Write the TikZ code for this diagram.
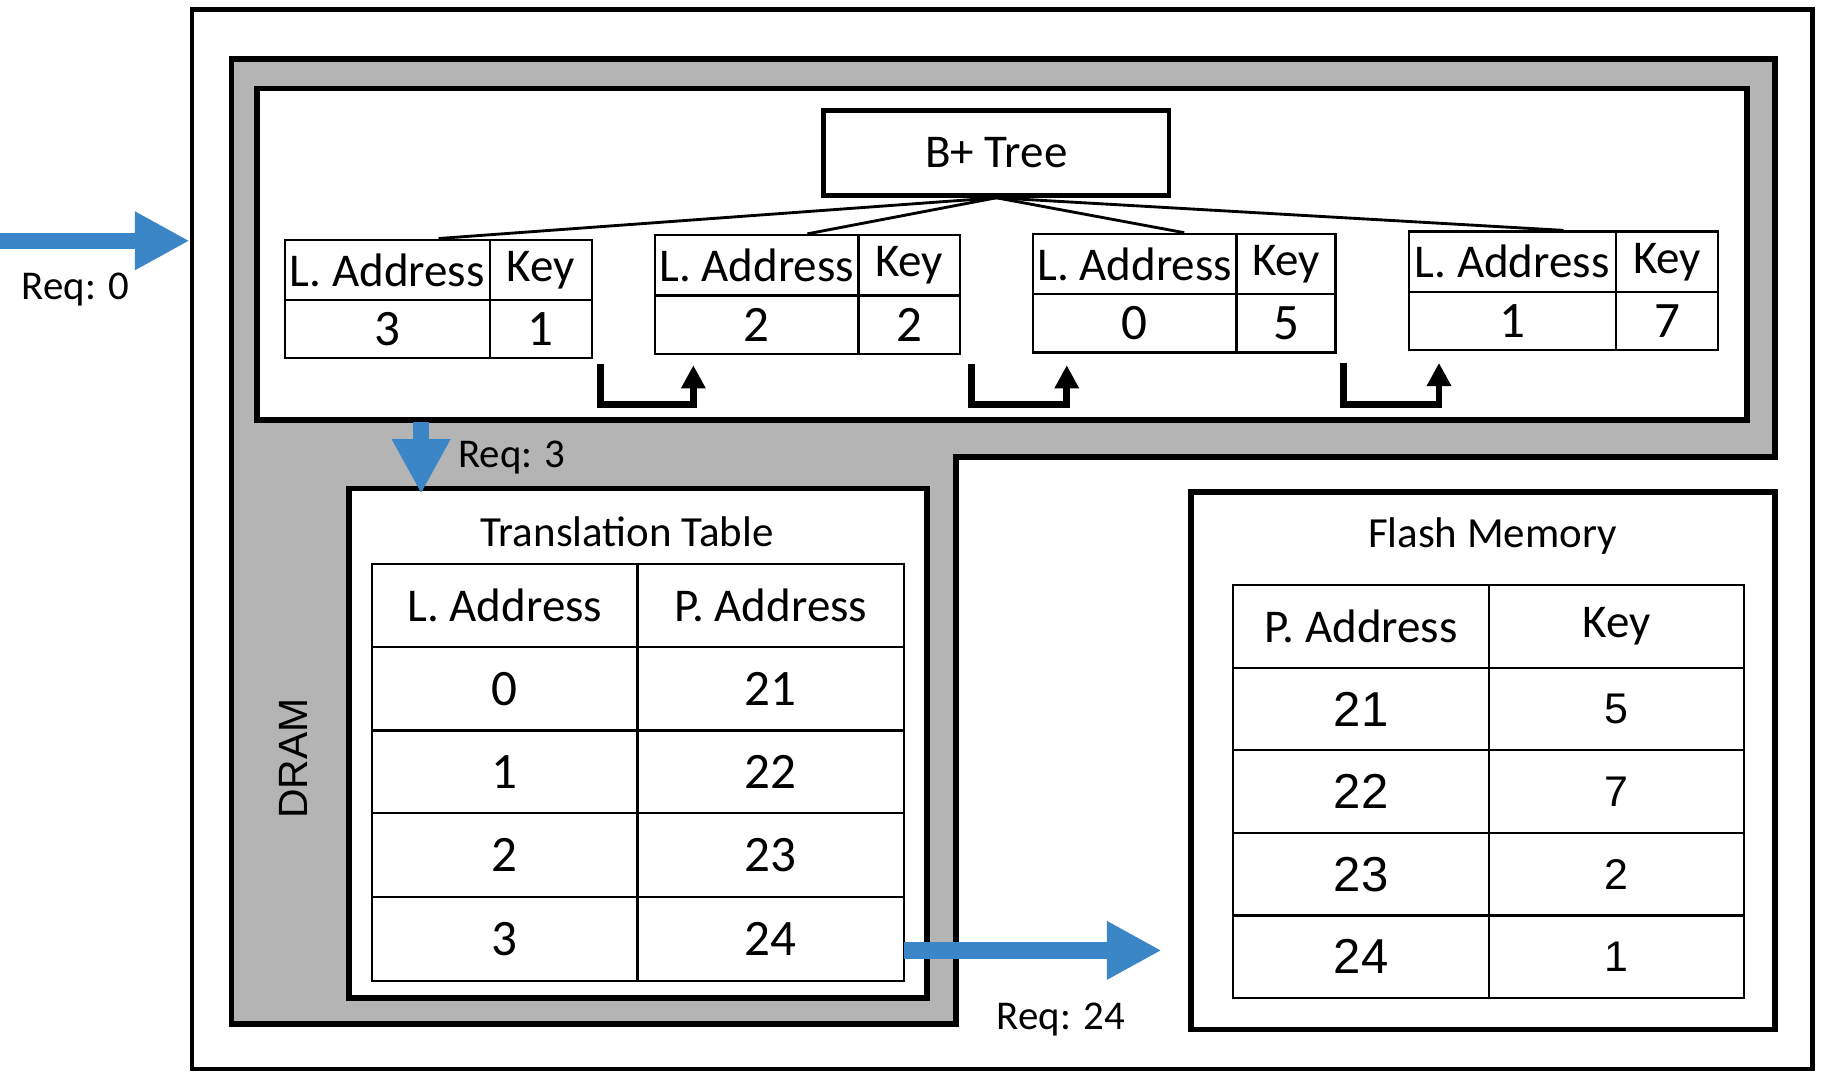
\documentclass[tikz,border=0pt]{standalone}
\usepackage{fontspec}
\setmainfont{Carlito}
\newfontfamily\arialfont{Liberation Sans}
\usetikzlibrary{arrows.meta,calc}
\definecolor{dramgray}{RGB}{180,180,180}
\definecolor{reqblue}{RGB}{59,134,198}
\newcommand{\setfs}[1]{\fontsize{#1}{#1}\selectfont}

\begin{document}
\begin{tikzpicture}[x=0.02cm,y=-0.02cm,
  frame/.style={draw,line width=2.8pt,fill=white,inner sep=0pt,rectangle},
  leafbox/.style={draw,line width=1.1pt,fill=white,inner sep=0pt,minimum height={102*0.02cm}},
  thin/.style={line width=1.1pt},
  treeline/.style={line width=1.4pt},
  ptr/.style={line width=3.3pt,line join=miter,-{Triangle[width=0.40cm,length=0.40cm]}},
  req/.style={line width=0.28cm,reqblue,-{Triangle[width=0.94cm,length=0.94cm]}},
  txt/.style={inner sep=0pt,font=\setfs{23}},
  title/.style={inner sep=0pt,font=\setfs{21}},
  cdig/.style={inner sep=0pt,font=\setfs{25}},
  dig/.style={inner sep=0pt,font=\arialfont\setfs{24}},
  sdig/.style={inner sep=0pt,font=\arialfont\setfs{21}},
  lbl/.style={inner sep=0pt,font=\setfs{20}}]

\useasboundingbox[fill=white] (0,0) rectangle (1568,922);

% system frame
\node[draw,line width=2.3pt,inner sep=0pt,minimum width={1393*0.02cm},minimum height={911*0.02cm}] (sys) at (861.5,463.5) {};

% DRAM region
\draw[line width=2.8pt,fill=dramgray,line join=miter] (199,51) -- (1526,51) -- (1526,393) -- (822,393) -- (822,880) -- (199,880) -- cycle;
\node[inner sep=0pt,rotate=90,font=\arialfont\setfs{20}] (dram) at (252,652) {DRAM};

% B+ tree area
\node[frame,minimum width={1281*0.02cm},minimum height={285*0.02cm}] (bparea) at (861.5,218.5) {};
\node[frame,line width=2.3pt,minimum width={297*0.02cm},minimum height={73*0.02cm},font=\setfs{23}] (root) at (856.5,131.5) {B+ Tree};

% leaves: frame, divider lines and cell texts
\node[leafbox,minimum width={264*0.02cm}] (leaf1) at (377,257) {};
\node[leafbox,minimum width={262*0.02cm}] (leaf2) at (694,253) {};
\node[leafbox,minimum width={260*0.02cm}] (leaf3) at (1018,252) {};
\node[leafbox,minimum width={266*0.02cm}] (leaf4) at (1344,250) {};

\draw[thin] (245,258) -- (509,258) (421,206) -- (421,308);
\draw[thin] (563,254) -- (825,254) (738,202) -- (738,304);
\draw[thin] (888,253) -- (1148,253) (1063,201) -- (1063,303);
\draw[thin] (1211,251) -- (1477,251) (1389,199) -- (1389,301);

\node[txt] (l1a) at (333,232) {L. Address};
\node[txt] (l1k) at (465,232) {Key};
\node[cdig] (l1v) at (333,283) {3};
\node[cdig] (l1w) at (465,283) {1};

\node[txt] (l2a) at (650.5,228) {L. Address};
\node[txt] (l2k) at (781.5,228) {Key};
\node[cdig] (l2v) at (650.5,279) {2};
\node[cdig] (l2w) at (781.5,279) {2};

\node[txt] (l3a) at (975.5,227) {L. Address};
\node[txt] (l3k) at (1105.5,227) {Key};
\node[cdig] (l3v) at (975.5,278) {0};
\node[cdig] (l3w) at (1105.5,278) {5};

\node[txt] (l4a) at (1300,225) {L. Address};
\node[txt] (l4k) at (1433,225) {Key};
\node[cdig] (l4v) at (1300,276) {1};
\node[cdig] (l4w) at (1433,276) {7};

% tree edges
\draw[treeline] (root.south) -- (leaf1.north);
\draw[treeline] (root.south) -- (leaf2.north);
\draw[treeline] (root.south) -- (leaf3.north);
\draw[treeline] (root.south) -- (leaf4.north);

% sibling pointers
\draw[ptr] ($(leaf1.south east)+(6,4)$) -- ++(0,35) -| ($(leaf2.south west)+(34,9)$);
\draw[ptr] ($(leaf2.south east)+(9,8)$) -- ++(0,35) -| ($(leaf3.south west)+(30,10)$);
\draw[ptr] ($(leaf3.south east)+(6,8)$) -- ++(0,36) -| ($(leaf4.south west)+(27,10)$);

% translation table
\node[frame,minimum width={497*0.02cm},minimum height={438*0.02cm}] (tt) at (548.5,639) {};
\node[title] (tttitle) at (539,457) {Translation Table};
\draw[thin] (320,485) rectangle (777,843);
\foreach \yy in {556,628,699,771} \draw[thin] (320,\yy) -- (777,\yy);
\draw[thin] (548,485) -- (548,843);
\node[txt] (tth1) at (434,520.5) {L. Address};
\node[txt] (tth2) at (662.5,520.5) {P. Address};
\foreach \yy/\la/\pa [count=\i] in {592/0/21,663.5/1/22,735/2/23,807/3/24} {
  \node[cdig] (ttl\i) at (434,\yy) {\la};
  \node[cdig] (ttp\i) at (662.5,\yy) {\pa};
}

% flash memory
\node[frame,minimum width={502*0.02cm},minimum height={462*0.02cm}] (fm) at (1275,654) {};
\node[title] (fmtitle) at (1283,461) {Flash Memory};
\draw[thin] (1060,503) rectangle (1499,858);
\foreach \yy in {574,645,716,787} \draw[thin] (1060,\yy) -- (1499,\yy);
\draw[thin] (1280,503) -- (1280,858);
\node[txt] (fmh1) at (1170,538.5) {P. Address};
\node[txt] (fmh2) at (1389.5,538.5) {Key};
\foreach \yy/\pa/\kk [count=\i] in {609.5/21/5,680.5/22/7,751.5/23/2,822.5/24/1} {
  \node[dig] (fmp\i) at (1170,\yy) {\pa};
  \node[sdig] (fmk\i) at (1389.5,\yy) {\kk};
}

% requests
\coordinate (reqin) at (0,207);
\draw[req] (reqin) -- (reqin -| sys.west);
\node[lbl] (req0) at (65,249) {Req: 0};

\coordinate (reqtt) at (362,363);
\draw[req] (reqtt) -- ($(reqtt |- tt.north)+(0,7)$);
\node[lbl] (req3) at (440,393) {Req: 3};

\coordinate (reqfm) at (777,817);
\draw[req] (reqfm) -- ($(reqfm -| fm.west)+(-23,0)$);
\node[lbl] (req24) at (912,876) {Req: 24};

\end{tikzpicture}
\end{document}
